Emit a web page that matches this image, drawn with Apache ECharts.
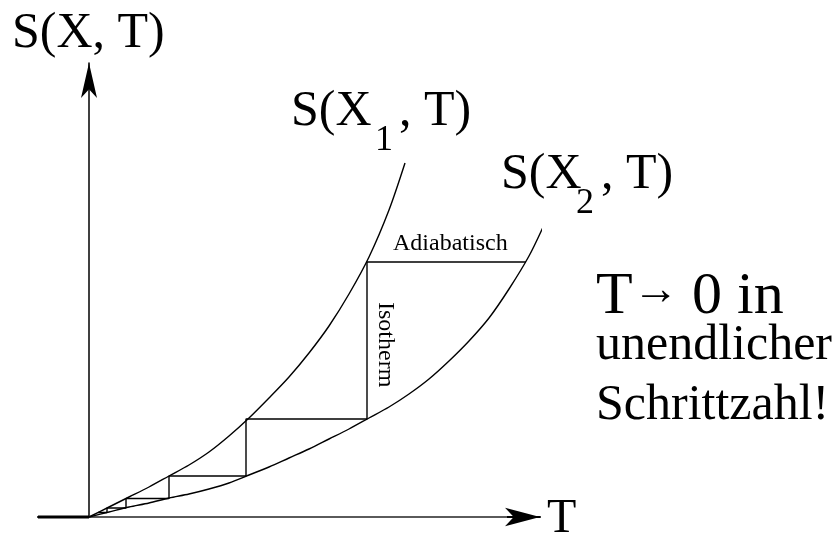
<!DOCTYPE html>
<html>
<head>
<meta charset="utf-8">
<script src="https://cdn.jsdelivr.net/npm/echarts@6/dist/echarts.min.js"></script>
<style>
  html, body { margin: 0; padding: 0; background: #fff; }
  #chart { width: 837px; height: 534px; }
</style>
</head>
<body>
<div id="chart"></div>
<script>
// Entropy S(X, T) against temperature T for two values of the parameter X.
const curve1T = [0, 20, 40, 60, 80, 100, 120, 140, 160, 180, 200, 220, 240, 260, 280, 300, 316];
const curve1S = [0, 10, 20, 30, 41, 52, 65, 81, 99, 119, 140, 164, 191, 223, 260, 307, 354];
const curve2T = [0, 20, 40, 60, 80, 100, 120, 140, 160, 180, 200, 220, 240, 260, 280, 300, 320, 340, 360, 380, 400, 420, 440, 455];
const curve2S = [0, 5, 10, 14, 19, 23, 28, 34, 42, 50, 59, 68, 78, 88, 99, 110, 123, 138, 156, 176, 199, 228, 261, 292];

// Alternating adiabatic (horizontal) and isothermal (vertical) steps towards T = 0.
const stairT = [437, 278, 278, 157, 157, 80, 80, 37, 37, 18, 18, 9];
const stairS = [255, 255, 98, 98, 41, 41, 18.5, 18.5, 9, 9, 4.5, 4.5];

// Axis ranges (the T axis line also runs a little to the left of the origin).
const tRange = [-51, 451];
const sRange = [0, 454];
const negStub = [-51, 0];   // short black stub left of the origin
const greyRun = [0, 418];   // grey part of the T axis up to the arrow head

const zip = (a, b) => a.map((v, i) => [v, b[i]]);
const serif = "'Liberation Serif', 'Times New Roman', serif";

const chart = echarts.init(document.getElementById('chart'), null, { renderer: 'canvas' });

const plainLine = (name, data, extra) => Object.assign({
  name: name,
  type: 'line',
  data: data,
  showSymbol: false,
  symbol: 'none',
  clip: false,
  silent: true,
  lineStyle: { color: '#000', width: 1.4 }
}, extra || {});

function txt(text, x, y, size, extra) {
  return Object.assign({
    type: 'text',
    x: x, y: y,
    silent: true,
    style: {
      text: text,
      font: size + 'px ' + serif,
      fill: '#000',
      textAlign: 'left',
      textVerticalAlign: 'middle'
    }
  }, extra || {});
}

const option = {
  animation: false,
  backgroundColor: '#fff',
  grid: { left: 38, right: 297, top: 63, bottom: 17 },
  xAxis: {
    type: 'value',
    min: tRange[0], max: tRange[1],
    axisLine: {
      show: true, onZero: true,
      lineStyle: { color: '#000', width: 2 },
      symbol: ['none', 'arrow'],
      symbolSize: [14, 35],
      symbolOffset: [0, 0]
    },
    axisTick: { show: false },
    axisLabel: { show: false },
    splitLine: { show: false }
  },
  yAxis: {
    type: 'value',
    min: sRange[0], max: sRange[1],
    axisLine: {
      show: true, onZero: true,
      lineStyle: { color: '#000', width: 1.5 },
      symbol: ['none', 'arrow'],
      symbolSize: [12, 35],
      symbolOffset: [0, 0]
    },
    axisTick: { show: false },
    axisLabel: { show: false },
    splitLine: { show: false }
  },
  series: [
    plainLine('T-Achse grau', [[greyRun[0], 0], [greyRun[1], 0]], { lineStyle: { color: '#5a5a5a', width: 2 } }),
    plainLine('T-Achse links', [[negStub[0], 0], [negStub[1], 0]], { lineStyle: { color: '#000', width: 3 } }),
    plainLine('S(X1, T)', zip(curve1T, curve1S), { smooth: 0.3 }),
    plainLine('S(X2, T)', zip(curve2T, curve2S), { smooth: 0.3 }),
    plainLine('Schritte', zip(stairT, stairS))
  ],
  graphic: [
    txt('S(X, T)', 12, 34, 50),
    txt('S(X', 291, 112, 50),
    txt('1', 375, 141, 36),
    txt(', T)', 399, 112, 50),
    txt('S(X', 501, 175, 50),
    txt('2', 576, 204, 36),
    txt(', T)', 601, 175, 50),
    txt('Adiabatisch', 393, 244, 24),
    txt('Isotherm', 385, 302, 24, { rotation: -Math.PI / 2 }),
    txt('T', 596, 297, 60),
    txt('\u2192', 633, 292, 46),
    txt('0 in', 692, 297, 60),
    txt('unendlicher', 596, 346, 50),
    txt('Schrittzahl!', 596, 406, 50),
    txt('T', 547, 519, 48)
  ]
};

chart.setOption(option);
</script>
</body>
</html>
